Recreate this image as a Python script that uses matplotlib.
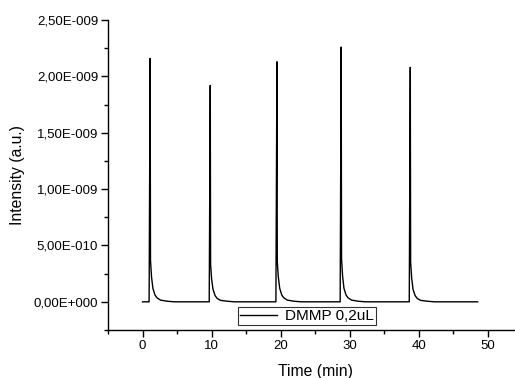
import matplotlib.pyplot as plt
from matplotlib.ticker import FuncFormatter, FixedLocator

plt.rcParams['font.family'] = ['Liberation Sans', 'DejaVu Sans']

# baseline segments between peaks (time in min, intensity in a.u.)
base_t = [0.0, 0.9]
base_i = [0.0, 0.0]

peak1_t = [0.95, 1.1, 1.15, 1.3, 1.5, 1.8, 2.1, 2.6, 3.6, 4.6, 9.5]
peak1_i = [0.0, 2.16e-9, 0.37e-9, 0.22e-9, 0.12e-9, 0.06e-9, 0.035e-9, 0.015e-9, 0.005e-9, 0.0, 0.0]

peak2_t = [9.65, 9.8, 9.85, 10.0, 10.2, 10.5, 10.8, 11.3, 12.3, 13.3, 19.2]
peak2_i = [0.0, 1.92e-9, 0.33e-9, 0.2e-9, 0.11e-9, 0.055e-9, 0.03e-9, 0.013e-9, 0.005e-9, 0.0, 0.0]

peak3_t = [19.3, 19.45, 19.5, 19.65, 19.85, 20.15, 20.45, 20.95, 21.95, 22.95, 28.5]
peak3_i = [0.0, 2.13e-9, 0.36e-9, 0.22e-9, 0.12e-9, 0.06e-9, 0.035e-9, 0.015e-9, 0.005e-9, 0.0, 0.0]

peak4_t = [28.6, 28.75, 28.8, 28.95, 29.15, 29.45, 29.75, 30.25, 31.25, 32.25, 38.5]
peak4_i = [0.0, 2.26e-9, 0.38e-9, 0.23e-9, 0.12e-9, 0.06e-9, 0.035e-9, 0.015e-9, 0.005e-9, 0.0, 0.0]

peak5_t = [38.6, 38.75, 38.8, 38.95, 39.15, 39.45, 39.75, 40.25, 41.25, 42.25, 48.5]
peak5_i = [0.0, 2.08e-9, 0.35e-9, 0.21e-9, 0.11e-9, 0.055e-9, 0.03e-9, 0.013e-9, 0.005e-9, 0.0, 0.0]

time = base_t + peak1_t + peak2_t + peak3_t + peak4_t + peak5_t
intensity = base_i + peak1_i + peak2_i + peak3_i + peak4_i + peak5_i

x_major = [0, 10, 20, 30, 40, 50]
x_minor = [-5, 5, 15, 25, 35, 45, 55]
y_major = [0.0, 0.5e-9, 1.0e-9, 1.5e-9, 2.0e-9, 2.5e-9]
y_minor = [-0.25e-9, 0.25e-9, 0.75e-9, 1.25e-9, 1.75e-9, 2.25e-9]


def origin_fmt(v, pos):
    # Origin style: 2,50E-009
    if abs(v) < 1e-20:
        return "0,00E+000"
    mant, exp = f"{v:.2E}".split("E")
    sign = "-" if int(exp) < 0 else "+"
    return f"{mant.replace('.', ',')}E{sign}{abs(int(exp)):03d}"


fig = plt.figure(figsize=(5.15, 3.78), dpi=100)
ax = fig.add_axes([0.2097, 0.127, 0.805, 0.820])

ax.plot(time, intensity, color='black', linewidth=1.0, label='DMMP 0,2uL')

ax.set_xlim(-5, 55)
ax.set_ylim(-0.25e-9, 2.5e-9)
ax.xaxis.set_major_locator(FixedLocator(x_major))
ax.xaxis.set_minor_locator(FixedLocator(x_minor))
ax.yaxis.set_major_locator(FixedLocator(y_major))
ax.yaxis.set_minor_locator(FixedLocator(y_minor))
ax.yaxis.set_major_formatter(FuncFormatter(origin_fmt))

for side in ['top', 'right']:
    ax.spines[side].set_visible(False)
for side in ['left', 'bottom']:
    ax.spines[side].set_linewidth(1.0)

ax.tick_params(which='major', direction='out', length=5, width=1.0, labelsize=9.5, pad=2)
ax.tick_params(which='minor', direction='out', length=3, width=1.0)

ax.set_xlabel('Time (min)', fontsize=11.3, labelpad=9)
ax.set_ylabel('Intensity (a.u.)', fontsize=11.3, labelpad=6)

leg = fig.legend(loc='center', bbox_to_anchor=(307 / 515, 1 - 316 / 378), fontsize=11,
                 frameon=True, fancybox=False, handlelength=2.4, handletextpad=0.5,
                 borderpad=0.15, borderaxespad=0)
leg.get_frame().set_edgecolor('black')
leg.get_frame().set_linewidth(0.8)

fig.savefig('out.png', dpi=100)
